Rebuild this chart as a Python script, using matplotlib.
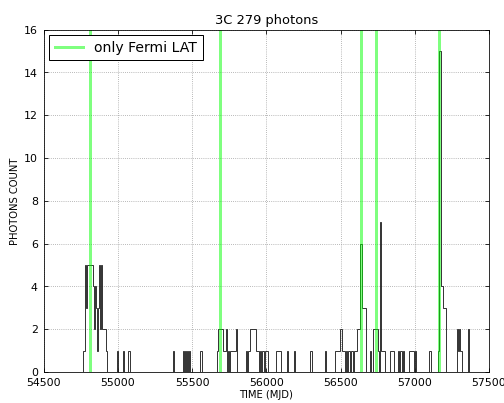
import numpy as np
import matplotlib
matplotlib.use('Agg')
import matplotlib.pyplot as plt

# weekly bins, centre MJD of every non-empty bin and its photon count
bin_width = 7
bin_mjd = [
    54769, 54776, 54783, 54790, 54797, 54804, 54811, 54818, 54825, 54832,
    54839, 54846, 54853, 54860, 54867, 54874, 54881, 54888, 54895, 54902,
    54909, 54916, 54923,
    54995, 55032, 55071, 55078,
    55370, 55444, 55458, 55472, 55486, 55552, 55559,
    55672, 55679, 55686, 55693, 55700, 55707, 55714, 55721, 55728, 55742,
    55756, 55763, 55770, 55777, 55784, 55791, 55798,
    55868, 55882, 55889, 55896, 55903, 55910, 55917, 55924, 55931, 55938,
    55945, 55959, 55973, 55980, 55994, 56001, 56008,
    56071, 56078, 56085, 56092, 56141, 56190, 56295, 56302, 56400,
    56463, 56470, 56477, 56484, 56491, 56498, 56505, 56512, 56519, 56526,
    56540, 56554, 56561, 56575, 56582, 56596, 56603, 56610, 56617, 56624,
    56631, 56638, 56645, 56652, 56659, 56666, 56701,
    56722, 56729, 56736, 56743, 56750, 56757, 56771, 56778, 56785, 56792,
    56799,
    56834, 56841, 56848, 56855, 56890, 56904, 56911, 56925,
    56967, 56974, 56981, 56988, 57002, 57100, 57107,
    57163, 57170, 57177, 57184, 57191, 57198, 57205,
    57289, 57296, 57303, 57310, 57317, 57359,
]
bin_count = [
    1, 1, 5, 3, 5, 5, 5, 5, 5, 4,
    2, 4, 3, 1, 3, 5, 2, 5, 2, 2,
    2, 2, 1,
    1, 1, 1, 1,
    1, 1, 1, 1, 1, 1, 1,
    1, 2, 2, 2, 2, 2, 1, 1, 2, 1,
    1, 1, 1, 1, 1, 1, 2,
    1, 1, 1, 2, 2, 2, 2, 2, 1, 1,
    1, 1, 1, 1, 1, 1, 1,
    1, 1, 1, 1, 1, 1, 1, 1, 1,
    1, 1, 1, 1, 1, 2, 2, 1, 1, 1,
    1, 1, 1, 1, 1, 1, 1, 1, 2, 2,
    6, 6, 3, 3, 3, 3, 1,
    2, 2, 2, 2, 2, 1, 7, 1, 1, 1,
    1,
    1, 1, 1, 1, 1, 1, 1, 1,
    1, 1, 1, 1, 1, 1, 1,
    1, 15, 4, 4, 3, 3, 3,
    2, 1, 2, 1, 1, 2,
]

# epochs with only Fermi LAT data
fermi_only = [54809, 55689, 56640, 56741, 57167]

plt.rcParams['font.family'] = 'DejaVu Sans'
fig = plt.figure(figsize=(7, 5.6), dpi=72)
ax = fig.add_axes([0.087, 0.077, 0.883, 0.849])

edges = np.arange(54500, 57500 + bin_width, bin_width)
ax.hist(bin_mjd, bins=edges, weights=bin_count, histtype='step',
        color='#222222', linewidth=0.9)

for i, t in enumerate(fermi_only):
    ax.axvline(t, color='lime', alpha=0.5, linewidth=3,
               label='only Fermi LAT' if i == 0 else None)

ax.set_xlim(54500, 57500)
ax.set_ylim(0, 16)
ax.set_xticks(np.arange(54500, 57501, 500))
ax.set_yticks(np.arange(0, 17, 2))
ax.grid(True, color='#999999', linestyle=':', linewidth=0.8)
ax.tick_params(direction='in', labelsize=11, top=True, right=True, length=4)
ax.tick_params(axis='x', pad=6)
ax.tick_params(axis='y', pad=6)

ax.set_title('3C 279 photons', fontsize=13)
ax.set_xlabel('TIME (MJD)', fontsize=10, labelpad=2)
ax.set_ylabel('PHOTONS COUNT', fontsize=10, labelpad=4)

leg = ax.legend(loc='upper left', fontsize=14, fancybox=False,
                framealpha=1, edgecolor='k', handlelength=2.0,
                borderaxespad=0.4)
leg.get_frame().set_linewidth(1.0)

fig.savefig('out.png', dpi=72, facecolor='white')
